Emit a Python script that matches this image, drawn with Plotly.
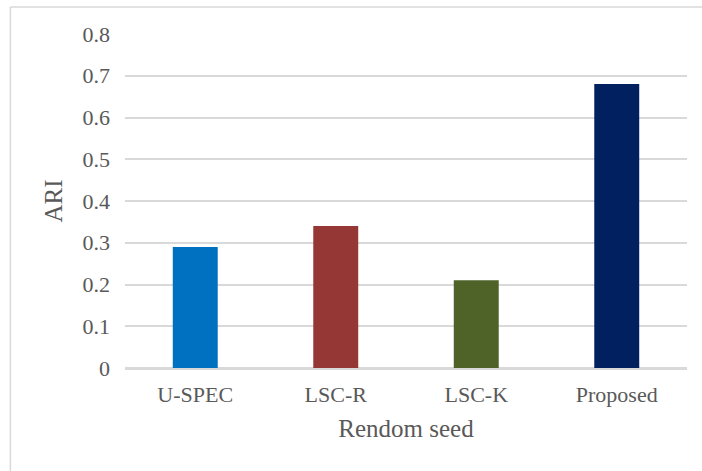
import plotly.graph_objects as go

# Clustering quality (ARI) per method
methods = ["U-SPEC", "LSC-R", "LSC-K", "Proposed"]
ari_values = [0.29, 0.34, 0.21, 0.68]
bar_colors = ["#0070C0", "#953735", "#4F6228", "#002060"]
y_ticks = [0, 0.1, 0.2, 0.3, 0.4, 0.5, 0.6, 0.7, 0.8]
y_tick_text = ["0", "0.1", "0.2", "0.3", "0.4", "0.5", "0.6", "0.7", "0.8"]

font_family = "Liberation Serif"
text_color = "#595959"
grid_color = "#D9D9D9"

fig = go.Figure(
    go.Bar(
        x=methods,
        y=ari_values,
        marker=dict(color=bar_colors, line=dict(width=0)),
        hoverinfo="x+y",
    )
)

fig.update_layout(
    width=702,
    height=471,
    margin=dict(l=125, r=15, t=34, b=103),
    paper_bgcolor="white",
    plot_bgcolor="white",
    bargap=0.68,
    showlegend=False,
    font=dict(family=font_family, color=text_color, size=22),
    shapes=[
        # outer chart frame (left and top edges visible)
        dict(type="line", xref="paper", yref="paper",
             x0=-0.204, x1=1.2, y0=1.081, y1=1.081,
             line=dict(color="#D9D9D9", width=1.5)),
        dict(type="line", xref="paper", yref="paper",
             x0=-0.204, x1=-0.204, y0=-0.4, y1=1.081,
             line=dict(color="#D9D9D9", width=1.5)),
    ],
)

fig.update_xaxes(
    showgrid=False,
    showline=True,
    linecolor=grid_color,
    linewidth=1.5,
    ticks="",
    ticklabelstandoff=6,
    tickfont=dict(family=font_family, size=22, color=text_color),
    title=dict(text="Rendom seed", font=dict(family=font_family, size=25, color=text_color), standoff=13),
)

fig.update_yaxes(
    range=[0, 0.8],
    tickvals=y_ticks,
    ticktext=y_tick_text,
    showgrid=True,
    gridcolor=grid_color,
    gridwidth=1.5,
    zeroline=True,
    zerolinecolor=grid_color,
    zerolinewidth=1.5,
    showline=False,
    ticks="",
    ticklabelstandoff=14,
    tickfont=dict(family=font_family, size=22, color=text_color),
    title=dict(text="ARI", font=dict(family=font_family, size=25, color=text_color), standoff=12),
)

fig.write_html("out.html")
